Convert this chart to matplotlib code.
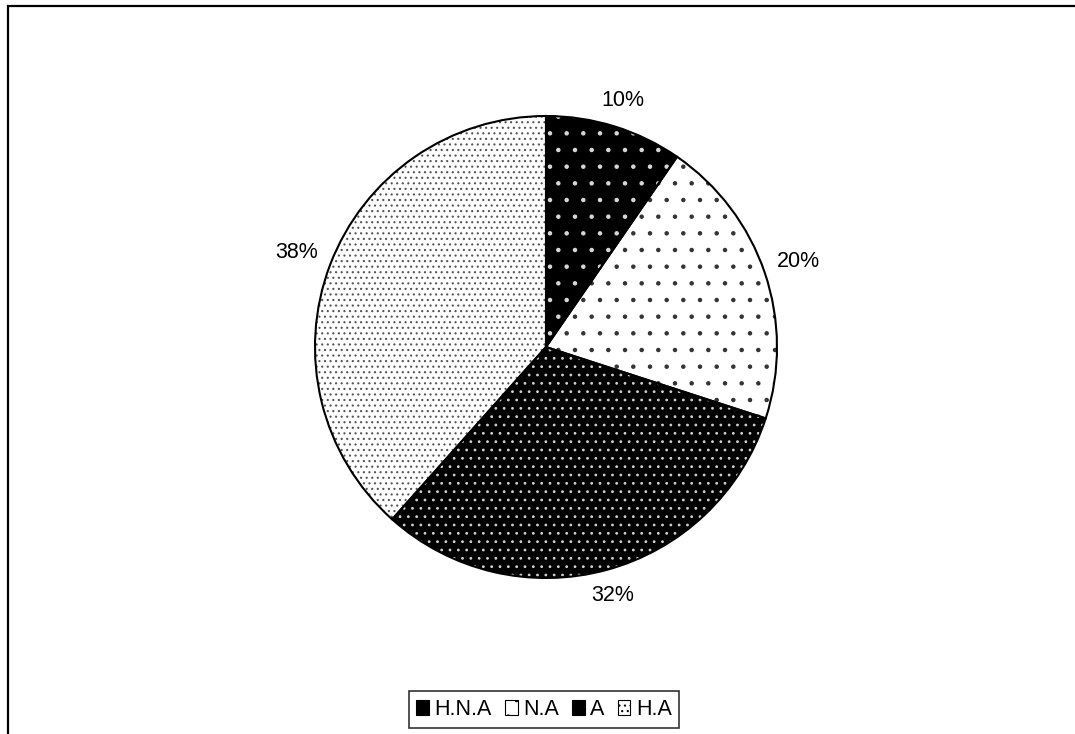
import matplotlib
matplotlib.use("Agg")
import numpy as np
import matplotlib.pyplot as plt
from matplotlib.patches import Patch, Rectangle

categories = ["H.N.A", "N.A", "A", "H.A"]
values = [9.6, 20.4, 31.6, 38.4]

face_colors = ["black", "white", "black", "white"]
hatch_colors = ["#d8d8d8", "#333333", "#cfcfcf", "#555555"]
hatches = [".", ".", "..", "..."]

plt.rcParams["font.family"] = ["Liberation Sans", "DejaVu Sans"]
plt.rcParams["hatch.linewidth"] = 0.8

W, H = 1075, 734
fig = plt.figure(figsize=(W / 100, H / 100), dpi=100)

cx, cy, r = 546, 347, 231
half = 1.5 * r
ax = fig.add_axes([(cx - half) / W, (H - cy - half) / H, 2 * half / W, 2 * half / H])

common = dict(startangle=90, counterclock=False, radius=1, center=(0, 0))

# base fill
wedges, _ = ax.pie(values, colors=face_colors, wedgeprops=dict(linewidth=0), **common)

# hatch overlay
w2, _ = ax.pie(values, colors=["none"] * 4, hatch=hatches, wedgeprops=dict(linewidth=0), **common)
for w, c in zip(w2, hatch_colors):
    w.set_facecolor("none")
    w.set_edgecolor(c)
    w.set_linewidth(0)

# outline
ax.pie(values, colors=["none"] * 4,
       wedgeprops=dict(linewidth=1.5, edgecolor="black", fill=False), **common)

ax.set_xlim(-1.5, 1.5)
ax.set_ylim(-1.5, 1.5)
ax.set_aspect("auto")
ax.axis("off")

# percentage labels placed just outside the rim (Excel "outside end" style)
total = sum(values)
fs = 15.5
tw, th = 42 / r, 16 / r   # approximate label box in radius units
gap = 13 / r
for w, v in zip(wedges, values):
    mid = np.deg2rad((w.theta1 + w.theta2) / 2)
    dx, dy = np.cos(mid), np.sin(mid)
    dist = 1 + gap + (tw / 2) * abs(dx) + (th / 2) * abs(dy)
    ax.text(dist * dx, dist * dy, f"{v / total * 100:.0f}%", ha="center", va="center",
            fontsize=fs, color="black")

# legend
handles = [Patch(facecolor=fc, edgecolor="black", hatch=h, linewidth=0.8)
           for fc, h in zip(face_colors, hatches)]
leg = fig.legend(handles, categories, loc="center", bbox_to_anchor=(544 / W, 1 - 709.5 / H),
                 ncol=4, frameon=True, fancybox=False, edgecolor="black", fontsize=fs,
                 handlelength=0.6, handleheight=0.75, handletextpad=0.25, columnspacing=0.6,
                 borderpad=0.35, borderaxespad=0)
leg.get_frame().set_linewidth(1.2)

# outer border (only top and left visible)
fig.add_artist(Rectangle((8 / W, -0.2), 1.5, 1.2 - 6 / H, transform=fig.transFigure,
                         fill=False, edgecolor="black", linewidth=1.6, clip_on=False))

fig.savefig("out.png", dpi=100)
